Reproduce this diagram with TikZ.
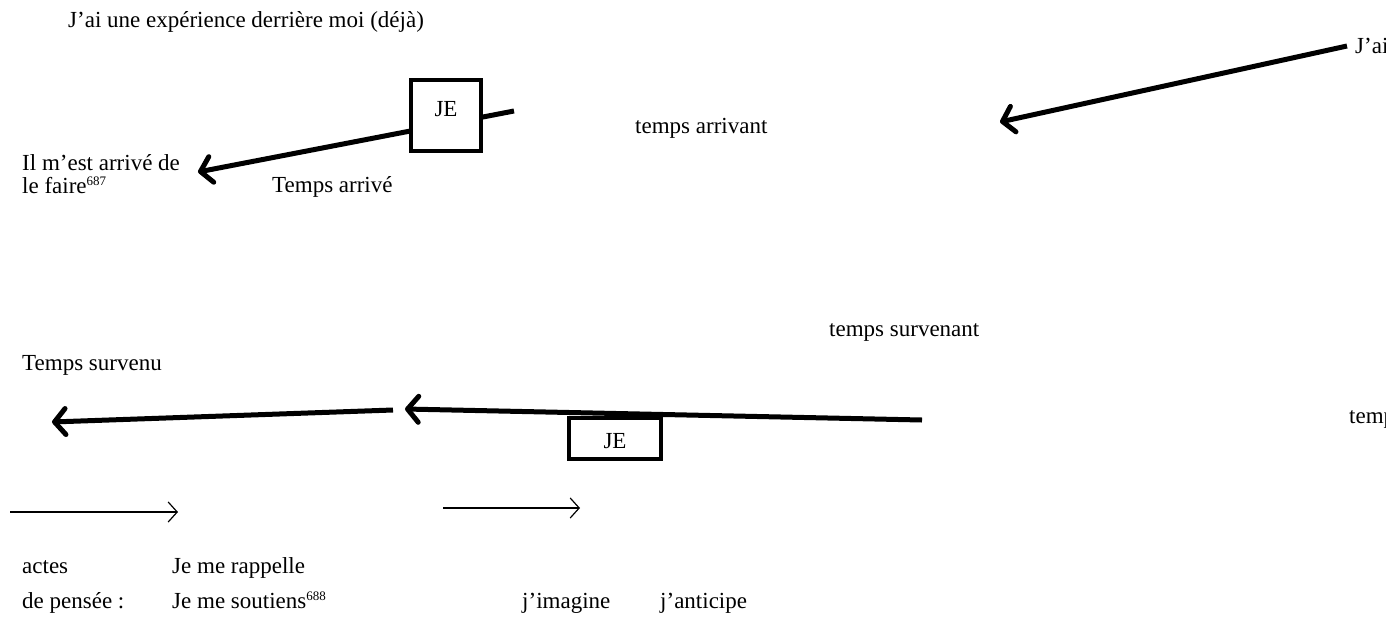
\documentclass[tikz,border=0pt]{standalone}
\usepackage{fontspec}
\setmainfont{Liberation Serif}
\usetikzlibrary{arrows.meta,positioning}

\newcommand{\fnref}[1]{\raisebox{0.75ex}{\fontsize{13}{13}\selectfont #1}}

\begin{document}
\begin{tikzpicture}[
    x=1pt, y=-1pt,
    txt/.style={anchor=base west, inner sep=0pt, font=\fontsize{23}{26}\selectfont},
    jebox/.style={draw, line width=4pt, fill=white, inner sep=0pt, outer sep=0pt,
                  anchor=north west, font=\fontsize{23}{26}\selectfont},
    timearrow/.style={line width=5pt, -{Straight Barb[length=11pt,width=26pt,round]}},
    thinarrow/.style={line width=1.2pt, -{Straight Barb[length=9pt,width=20pt]}}
]
    \useasboundingbox (0,0) rectangle (1386,624);
    \clip (0,0) rectangle (1386,624);

    % Ends of the time lines
    \coordinate (pastTail) at (514,111);
    \coordinate (pastHead) at (198,172);
    \coordinate (futTail) at (1347,46);
    \coordinate (futHead) at (1000,122);
    \coordinate (survTail) at (922,420);
    \coordinate (survMid) at (405,409);
    \coordinate (survBreak) at (393,410);
    \coordinate (survHead) at (52,422);

    % Time lines
    \draw[timearrow] (pastTail) -- (pastHead);
    \draw[timearrow] (futTail) -- (futHead);
    \draw[timearrow] (survBreak) -- (survHead);

    % The two JE boxes
    \node[jebox, minimum width=70pt, text height=36pt, text depth=35pt] (je1) at (411,80) {JE};
    \node[jebox, minimum width=92pt, text height=30pt, text depth=11pt] (je2) at (569,418) {JE};
    \draw[timearrow] (survTail) -- (survMid);

    % Upper labels
    \node[txt] (title) at (68,27) {J’ai une expérience derrière moi (déjà)};
    \node[txt] (jai) at (1355,53) {J’ai};
    \node[txt, align=left, font=\fontsize{23}{23}\selectfont] (fait) at (22,193)
        {Il m’est arrivé de\\le faire\fnref{687}};
    \node[txt] (arrive) at (272,192) {Temps arrivé};
    \node[txt] (arrivant) at (635,133) {temps arrivant};

    % Middle labels
    \node[txt] (survenant) at (829,336) {temps survenant};
    \node[txt] (survenu) at (22,370) {Temps survenu};
    \node[txt] (temps) at (1349,423) {temps};

    % Thin arrows
    \coordinate (thinA) at (10,512);
    \coordinate (thinB) at (178,512);
    \coordinate (thinC) at (443,508);
    \coordinate (thinD) at (580,508);
    \draw[thinarrow] (thinA) -- (thinB);
    \draw[thinarrow] (thinC) -- (thinD);

    % Acts of thought
    \node[txt] (actes) at (22,573) {actes};
    \node[txt] (rappel) at (172,573) {Je me rappelle};
    \node[txt] (pensee) at (22,608) {de pensée :};
    \node[txt] (soutien) at (172,608) {Je me soutiens\fnref{688}};
    \node[txt] (imagine) at (522,608) {j’imagine};
    \node[txt] (anticipe) at (660,608) {j’anticipe};
\end{tikzpicture}
\end{document}
